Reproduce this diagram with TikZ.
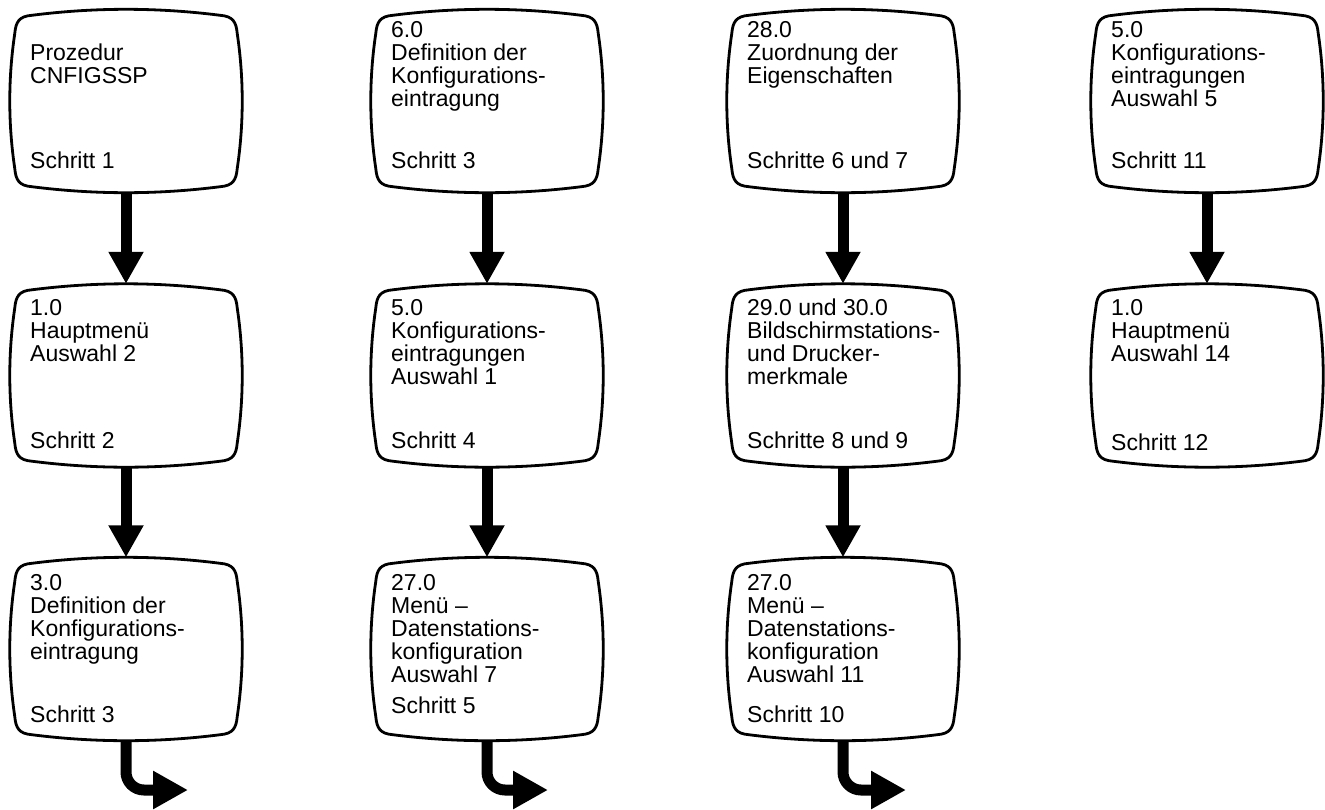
\documentclass[tikz,border=0pt]{standalone}
\usepackage{fontspec}
\setmainfont{Liberation Sans}
\usetikzlibrary{arrows.meta,calc}
\newcommand\tvframe[1]{%
  \draw[tv] ($(#1.north west)+(22,6)$)
  .. controls ($(#1.north west)+(85,-2)$) and ($(#1.north east)+(-85,-2)$) .. ($(#1.north east)+(-22,6)$)
  .. controls ($(#1.north east)+(-9,7)$) and ($(#1.north east)+(-6,13)$) .. ($(#1.north east)+(-5,24)$)
  .. controls ($(#1.north east)+(1.7,69)$) and ($(#1.south east)+(1.7,-69)$) .. ($(#1.south east)+(-5,-24)$)
  .. controls ($(#1.south east)+(-6,-13)$) and ($(#1.south east)+(-9,-7)$) .. ($(#1.south east)+(-22,-6)$)
  .. controls ($(#1.south east)+(-85,2)$) and ($(#1.south west)+(85,2)$) .. ($(#1.south west)+(22,-6)$)
  .. controls ($(#1.south west)+(9,-7)$) and ($(#1.south west)+(6,-13)$) .. ($(#1.south west)+(5,-24)$)
  .. controls ($(#1.south west)+(-1.7,-69)$) and ($(#1.north west)+(-1.7,69)$) .. ($(#1.north west)+(5,24)$)
  .. controls ($(#1.north west)+(6,13)$) and ($(#1.north west)+(9,7)$) .. ($(#1.north west)+(22,6)$) -- cycle;}
\begin{document}
\begin{tikzpicture}[x=1pt,y=-1pt,
  frame/.style={rectangle, minimum width=232pt, minimum height=183pt, inner sep=0pt, draw=none},
  txt/.style={anchor=base west, align=left, inner sep=0pt, font=\fontsize{23}{23}\selectfont},
  flow/.style={line width=11pt, -{Triangle[width=33pt,length=32pt]}},
  turn/.style={line width=11pt, rounded corners=18pt, -{Triangle[width=36pt,length=35pt]}},
  tv/.style={line width=2.8pt, line join=round}
]
\useasboundingbox (0,0) rectangle (1325,809);
% boxes
\node[frame] (b11) at (126,101) {};
\node[frame] (b12) at (126,375.5) {};
\node[frame] (b13) at (126,649) {};
\node[frame] (b21) at (487,101) {};
\node[frame] (b22) at (487,375.5) {};
\node[frame] (b23) at (487,649) {};
\node[frame] (b31) at (843,101) {};
\node[frame] (b32) at (843,375.5) {};
\node[frame] (b33) at (843,649) {};
\node[frame] (b41) at (1207,101) {};
\node[frame] (b42) at (1207,375.5) {};
\foreach \b in {b11,b12,b13,b21,b22,b23,b31,b32,b33,b41,b42} {\tvframe{\b}}
% texts (anchored at the baseline of the last line)
\node[txt] (t11) at (30,83) {Prozedur\\CNFIGSSP};
\node[txt] (s11) at (30,168) {Schritt 1};
\node[txt] (t12) at (30,361) {1.0\\Hauptmenü\\Auswahl 2};
\node[txt] (s12) at (30,448) {Schritt 2};
\node[txt] (t13) at (30,659) {3.0\\Definition der\\Konfigurations-\\eintragung};
\node[txt] (s13) at (30,722) {Schritt 3};
\node[txt] (t21) at (391,106) {6.0\\Definition der\\Konfigurations-\\eintragung};
\node[txt] (s21) at (391,168) {Schritt 3};
\node[txt] (t22) at (391,384) {5.0\\Konfigurations-\\eintragungen\\Auswahl 1};
\node[txt] (s22) at (391,448) {Schritt 4};
\node[txt] (t23) at (391,682) {27.0\\Menü –\\Datenstations-\\konfiguration\\Auswahl 7};
\node[txt] (s23) at (391,713) {Schritt 5};
\node[txt] (t31) at (747,83) {28.0\\Zuordnung der\\Eigenschaften};
\node[txt] (s31) at (747,168) {Schritte 6 und 7};
\node[txt] (t32) at (747,384) {29.0 und 30.0\\Bildschirmstations-\\und Drucker-\\merkmale};
\node[txt] (s32) at (747,448) {Schritte 8 und 9};
\node[txt] (t33) at (747,682) {27.0\\Menü –\\Datenstations-\\konfiguration\\Auswahl 11};
\node[txt] (s33) at (747,722) {Schritt 10};
\node[txt] (t41) at (1111,106) {5.0\\Konfigurations-\\eintragungen\\Auswahl 5};
\node[txt] (s41) at (1111,168) {Schritt 11};
\node[txt] (t42) at (1111,361) {1.0\\Hauptmenü\\Auswahl 14};
\node[txt] (s42) at (1111,450) {Schritt 12};
% arrows
\draw[flow] (b11.south) -- (b12.north);
\draw[flow] (b12.south) -- (b13.north);
\draw[flow] (b21.south) -- (b22.north);
\draw[flow] (b22.south) -- (b23.north);
\draw[flow] (b31.south) -- (b32.north);
\draw[flow] (b32.south) -- (b33.north);
\draw[flow] (b41.south) -- (b42.north);
\coordinate (e13) at (188,790);
\coordinate (e23) at (548,790);
\coordinate (e33) at (906,790);
\draw[turn] (b13.south) |- (e13);
\draw[turn] (b23.south) |- (e23);
\draw[turn] (b33.south) |- (e33);
\end{tikzpicture}
\end{document}
